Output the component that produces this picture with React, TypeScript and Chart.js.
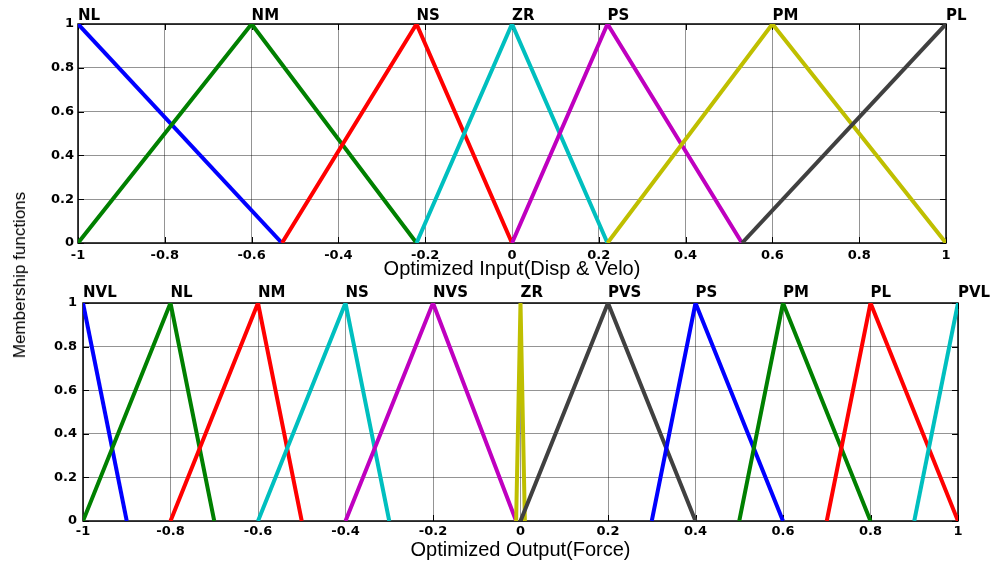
import { useEffect, useRef } from 'react';
import { Chart, registerables } from 'chart.js';

Chart.register(...registerables);

// Shared axis ticks (universe of discourse is [-1, 1])
const xTicks = [-1, -0.8, -0.6, -0.4, -0.2, 0, 0.2, 0.4, 0.6, 0.8, 1];
const xTickLabels = ['-1', '-0.8', '-0.6', '-0.4', '-0.2', '0', '0.2', '0.4', '0.6', '0.8', '1'];
const yTicks = [0, 0.2, 0.4, 0.6, 0.8, 1];
const yTickLabels = ['0', '0.2', '0.4', '0.6', '0.8', '1'];

// Input membership functions (displacement & velocity)
const inputNames = ['NL', 'NM', 'NS', 'ZR', 'PS', 'PM', 'PL'];
const inputX = [
  [-1, -0.53],
  [-1, -0.6, -0.22],
  [-0.53, -0.22, 0],
  [-0.22, 0, 0.22],
  [0, 0.22, 0.53],
  [0.22, 0.6, 1],
  [0.53, 1],
];
const inputY = [
  [1, 0],
  [0, 1, 0],
  [0, 1, 0],
  [0, 1, 0],
  [0, 1, 0],
  [0, 1, 0],
  [0, 1],
];

// Output membership functions (force)
const outputNames = ['NVL', 'NL', 'NM', 'NS', 'NVS', 'ZR', 'PVS', 'PS', 'PM', 'PL', 'PVL'];
const outputX = [
  [-1, -0.9],
  [-1, -0.8, -0.7],
  [-0.8, -0.6, -0.5],
  [-0.6, -0.4, -0.3],
  [-0.4, -0.2, -0.01],
  [-0.01, 0, 0.01],
  [0, 0.2, 0.4],
  [0.3, 0.4, 0.6],
  [0.5, 0.6, 0.8],
  [0.7, 0.8, 1],
  [0.9, 1],
];
const outputY = [
  [1, 0],
  [0, 1, 0],
  [0, 1, 0],
  [0, 1, 0],
  [0, 1, 0],
  [0, 1, 0],
  [0, 1, 0],
  [0, 1, 0],
  [0, 1, 0],
  [0, 1, 0],
  [0, 1],
];

const BLUE = '#0000ff';
const GREEN = '#008000';
const RED = '#ff0000';
const CYAN = '#00bfbf';
const MAGENTA = '#bf00bf';
const OLIVE = '#bfbf00';
const GREY = '#404040';

const inputColors = [BLUE, GREEN, RED, CYAN, MAGENTA, OLIVE, GREY];
const outputColors = [BLUE, GREEN, RED, CYAN, MAGENTA, OLIVE, GREY, BLUE, GREEN, RED, CYAN];

const tickFont = { family: '"DejaVu Sans", sans-serif', size: 13, weight: 'bold' as const };
const titleFont = { family: '"Liberation Sans", Arial, sans-serif', size: 20 };
const gridColor = 'rgba(0,0,0,0.42)';

// Axes box, inward tick marks, and the membership-function names above each peak
function framePlugin(nameGap: number) {
  return {
    id: 'mfFrame',
    beforeDatasetsDraw(chart: any) {
      const { ctx, chartArea: a, scales } = chart;
      const tl = 6;
      ctx.save();
      ctx.strokeStyle = '#000';
      ctx.lineWidth = 1;
      ctx.beginPath();
      for (const t of scales.x.ticks) {
        const px = Math.round(scales.x.getPixelForValue(t.value)) + 0.5;
        ctx.moveTo(px, a.bottom);
        ctx.lineTo(px, a.bottom - tl);
        ctx.moveTo(px, a.top);
        ctx.lineTo(px, a.top + tl);
      }
      for (const t of scales.y.ticks) {
        const py = Math.round(scales.y.getPixelForValue(t.value)) + 0.5;
        ctx.moveTo(a.left, py);
        ctx.lineTo(a.left + tl, py);
        ctx.moveTo(a.right, py);
        ctx.lineTo(a.right - tl, py);
      }
      ctx.stroke();
      ctx.lineWidth = 1.5;
      ctx.strokeRect(a.left, a.top, a.right - a.left, a.bottom - a.top);
      ctx.restore();
    },
    afterDatasetsDraw(chart: any) {
      const { ctx, chartArea: a, scales } = chart;
      ctx.save();
      ctx.font = 'bold 15px "DejaVu Sans", sans-serif';
      ctx.fillStyle = '#000';
      ctx.textAlign = 'left';
      ctx.textBaseline = 'alphabetic';
      chart.data.datasets.forEach((ds: any) => {
        let peak = ds.data[0];
        for (const p of ds.data) if (p.y > peak.y) peak = p;
        ctx.fillText(ds.label, scales.x.getPixelForValue(peak.x), a.top - nameGap);
      });
      ctx.restore();
    },
  };
}

type MFProps = {
  top: number;
  height: number;
  names: string[];
  xs: number[][];
  ys: number[][];
  colors: string[];
  title: string;
  padding: { top: number; right: number; bottom: number; left: number };
  yWidth: number;
  xHeight: number;
  xTickPad: number;
  yTickPad: number;
  nameGap: number;
  titlePadBottom: number;
};

function MFChart(p: MFProps) {
  const ref = useRef<HTMLCanvasElement>(null);
  useEffect(() => {
    const chart = new Chart(ref.current as HTMLCanvasElement, {
      type: 'line',
      data: {
        datasets: p.names.map((name, i) => ({
          label: name,
          data: p.xs[i].map((x, j) => ({ x, y: p.ys[i][j] })),
          borderColor: p.colors[i],
          backgroundColor: p.colors[i],
          borderWidth: 4,
          borderJoinStyle: 'miter' as const,
          borderCapStyle: 'butt' as const,
          pointRadius: 0,
          tension: 0,
          fill: false,
          order: -i,
        })),
      },
      options: {
        responsive: false,
        animation: false,
        devicePixelRatio: 1,
        events: [],
        layout: { padding: p.padding },
        plugins: { legend: { display: false }, tooltip: { enabled: false } },
        scales: {
          x: {
            type: 'linear',
            min: -1,
            max: 1,
            afterBuildTicks: (s: any) => {
              s.ticks = xTicks.map((v) => ({ value: v }));
            },
            afterFit: (s: any) => {
              s.height = p.xHeight;
            },
            ticks: {
              callback: (_v: any, i: number) => xTickLabels[i],
              color: '#000',
              font: tickFont,
              padding: p.xTickPad,
              maxRotation: 0,
              autoSkip: false,
            },
            grid: { color: gridColor, lineWidth: 1, drawTicks: false },
            border: { display: false },
            title: {
              display: true,
              text: p.title,
              color: '#000',
              font: titleFont,
              padding: { top: 0, bottom: p.titlePadBottom },
            },
          },
          y: {
            type: 'linear',
            min: 0,
            max: 1,
            afterBuildTicks: (s: any) => {
              s.ticks = yTicks.map((v) => ({ value: v }));
            },
            afterFit: (s: any) => {
              s.width = p.yWidth;
            },
            ticks: {
              callback: (_v: any, i: number) => yTickLabels[i],
              color: '#000',
              font: tickFont,
              padding: p.yTickPad,
              autoSkip: false,
            },
            grid: { color: gridColor, lineWidth: 1, drawTicks: false },
            border: { display: false },
          },
        },
      } as any,
      plugins: [framePlugin(p.nameGap)],
    });
    return () => chart.destroy();
  }, []);
  return (
    <canvas
      ref={ref}
      width={992}
      height={p.height}
      style={{ position: 'absolute', left: 0, top: p.top, width: 992, height: p.height }}
    />
  );
}

export default function App() {
  return (
    <div style={{ position: 'absolute', left: 0, top: 0, width: 992, height: 565, background: '#fff', overflow: 'hidden' }}>
      <MFChart
        top={0}
        height={285}
        names={inputNames}
        xs={inputX}
        ys={inputY}
        colors={inputColors}
        title="Optimized Input(Disp & Velo)"
        padding={{ top: 24, right: 46, bottom: 0, left: 0 }}
        yWidth={78}
        xHeight={42}
        xTickPad={5}
        yTickPad={4}
        nameGap={4}
        titlePadBottom={4}
      />
      <MFChart
        top={283}
        height={282}
        names={outputNames}
        xs={outputX}
        ys={outputY}
        colors={outputColors}
        title="Optimized Output(Force)"
        padding={{ top: 20, right: 34, bottom: 0, left: 0 }}
        yWidth={83}
        xHeight={44}
        xTickPad={3}
        yTickPad={6}
        nameGap={6}
        titlePadBottom={3}
      />
      <div
        style={{
          position: 'absolute',
          left: 20,
          top: 275,
          transform: 'translate(-50%, -50%) rotate(-90deg)',
          whiteSpace: 'nowrap',
          fontFamily: '"Liberation Sans", Arial, sans-serif',
          fontSize: 17,
          color: '#000',
        }}
      >
        Membership functions
      </div>
    </div>
  );
}
